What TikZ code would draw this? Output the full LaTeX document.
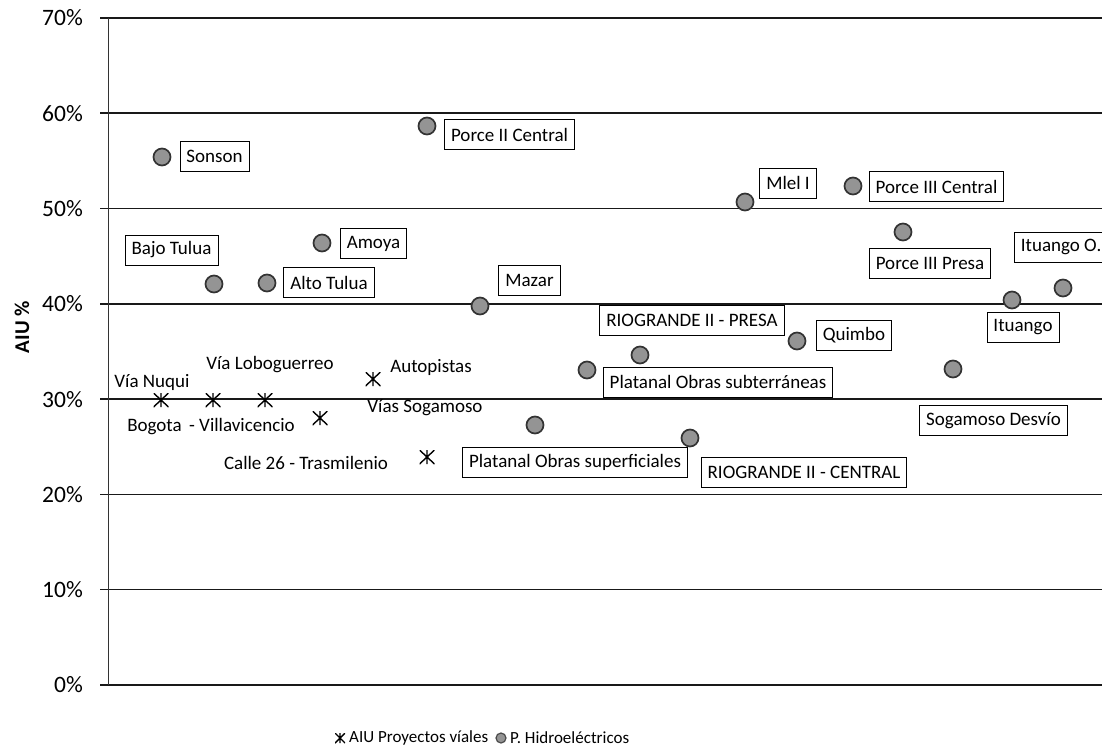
\documentclass[tikz,border=0pt]{standalone}
\usepackage{fontspec}
\setmainfont{Carlito}
\newcommand{\lblfont}{\fontsize{19}{21}\selectfont}
\newcommand{\tickfont}{\fontsize{23.5}{25}\selectfont}
\newcommand{\legfont}{\fontsize{17}{20}\selectfont}
\begin{document}
\begin{tikzpicture}[x=1pt,y=-1pt,
  gridln/.style={line width=1.5pt, black!90},
  dot/.style={circle, draw=black!80, line width=1.7pt, fill=black!42, minimum size=17pt, inner sep=0pt},
  legdot/.style={circle, draw=black!70, line width=1.2pt, fill=black!42, minimum size=10pt, inner sep=0pt},
  lbl/.style={draw=black, line width=0.8pt, fill=white, font=\lblfont, inner xsep=6.5pt, inner ysep=0pt, minimum height=30pt},
  txt/.style={font=\lblfont, inner sep=0pt},
  tick/.style={font=\tickfont, anchor=east, inner sep=0pt},
  astk/.style={minimum width=15pt, minimum height=14pt, inner sep=0pt,
    path picture={\draw[line width=1.4pt, black]
      (path picture bounding box.north)--(path picture bounding box.south)
      (path picture bounding box.north west)--(path picture bounding box.south east)
      (path picture bounding box.north east)--(path picture bounding box.south west);}},
  legastk/.style={astk, minimum width=10pt, minimum height=10pt}
]
\useasboundingbox (0,0) rectangle (1102,750);
\fill[white] (0,0) rectangle (1102,750);

% gridlines and ticks
\foreach \v in {0,10,...,70}{
  \draw[gridln] (100,{685-9.53*\v}) -- (1102,{685-9.53*\v});
  \node[tick] (t\v) at (83,{685-9.53*\v}) {\v\%};
}
\draw[line width=0.8pt, black!80] (108,18) -- (108,685);
\node[font=\bfseries\fontsize{21}{23}\selectfont, rotate=90] (ylab) at (22,327) {AIU \%};

% hydro points
\node[dot] (d1) at (162,157) {};
\node[dot] (d2) at (427,126) {};
\node[dot] (d3) at (745,202) {};
\node[dot] (d4) at (853,186) {};
\node[dot] (d5) at (903,232) {};
\node[dot] (d6) at (1063,288) {};
\node[dot] (d7) at (1012,300) {};
\node[dot] (d8) at (797,341) {};
\node[dot] (d9) at (953,369) {};
\node[dot] (d10) at (587,370) {};
\node[dot] (d11) at (640,355) {};
\node[dot] (d12) at (535,425) {};
\node[dot] (d13) at (690,438) {};
\node[dot] (d14) at (480,306) {};
\node[dot] (d15) at (322,243) {};
\node[dot] (d16) at (214,284) {};
\node[dot] (d17) at (267,283) {};

% hydro labels
\node[lbl] (l1) at (214.5,156.5) {Sonson};
\node[lbl] (l2) at (509.5,134.5) {Porce II Central};
\node[lbl] (l3) at (788,183) {Mlel I};
\node[lbl] (l4) at (936.5,186.5) {Porce III Central};
\node[lbl] (l5) at (930,263) {Porce III Presa};
\node[lbl, anchor=west] (l6) at (1014,247) {Ituango O.};
\node[lbl] (l7) at (1023,327) {Ituango};
\node[lbl] (l8) at (854,335) {Quimbo};
\node[lbl] (l9) at (993.5,420.5) {Sogamoso Desvío};
\node[lbl] (l10) at (718,382) {Platanal Obras subterráneas};
\node[lbl] (l11) at (692,320) {RIOGRANDE II - PRESA};
\node[lbl] (l12) at (575,462.5) {Platanal Obras superficiales};
\node[lbl] (l13) at (804,472) {RIOGRANDE II - CENTRAL};
\node[lbl] (l14) at (529.5,280) {Mazar};
\node[lbl] (l15) at (373.5,243.5) {Amoya};
\node[lbl] (l16) at (171.5,250) {Bajo Tulua};
\node[lbl] (l17) at (329,282.5) {Alto Tulua};

% road points
\node[astk] (a1) at (161,400) {};
\node[astk] (a2) at (213,400) {};
\node[astk] (a3) at (265,400) {};
\node[astk] (a4) at (320,418) {};
\node[astk] (a5) at (373,379) {};
\node[astk] (a6) at (427,457) {};

% road labels
\node[txt] (r1) at (152,382) {Vía Nuqui};
\node[txt] (r2) at (211,427) {Bogota\, - Villavicencio};
\node[txt] (r3) at (270,365) {Vía Loboguerreo};
\node[txt] (r4) at (306,463) {Calle 26 - Trasmilenio};
\node[txt] (r5) at (431,367) {Autopistas};
\node[txt] (r6) at (425,408) {Vías Sogamoso};

% legend
\node[legastk] (la) at (340,738) {};
\node[font=\legfont, anchor=west, inner sep=0pt] (lt1) at (349,738) {AIU Proyectos víales};
\node[legdot] (lb) at (501,738) {};
\node[font=\legfont, anchor=west, inner sep=0pt] (lt2) at (510,738) {P. Hidroeléctricos};
\end{tikzpicture}
\end{document}
